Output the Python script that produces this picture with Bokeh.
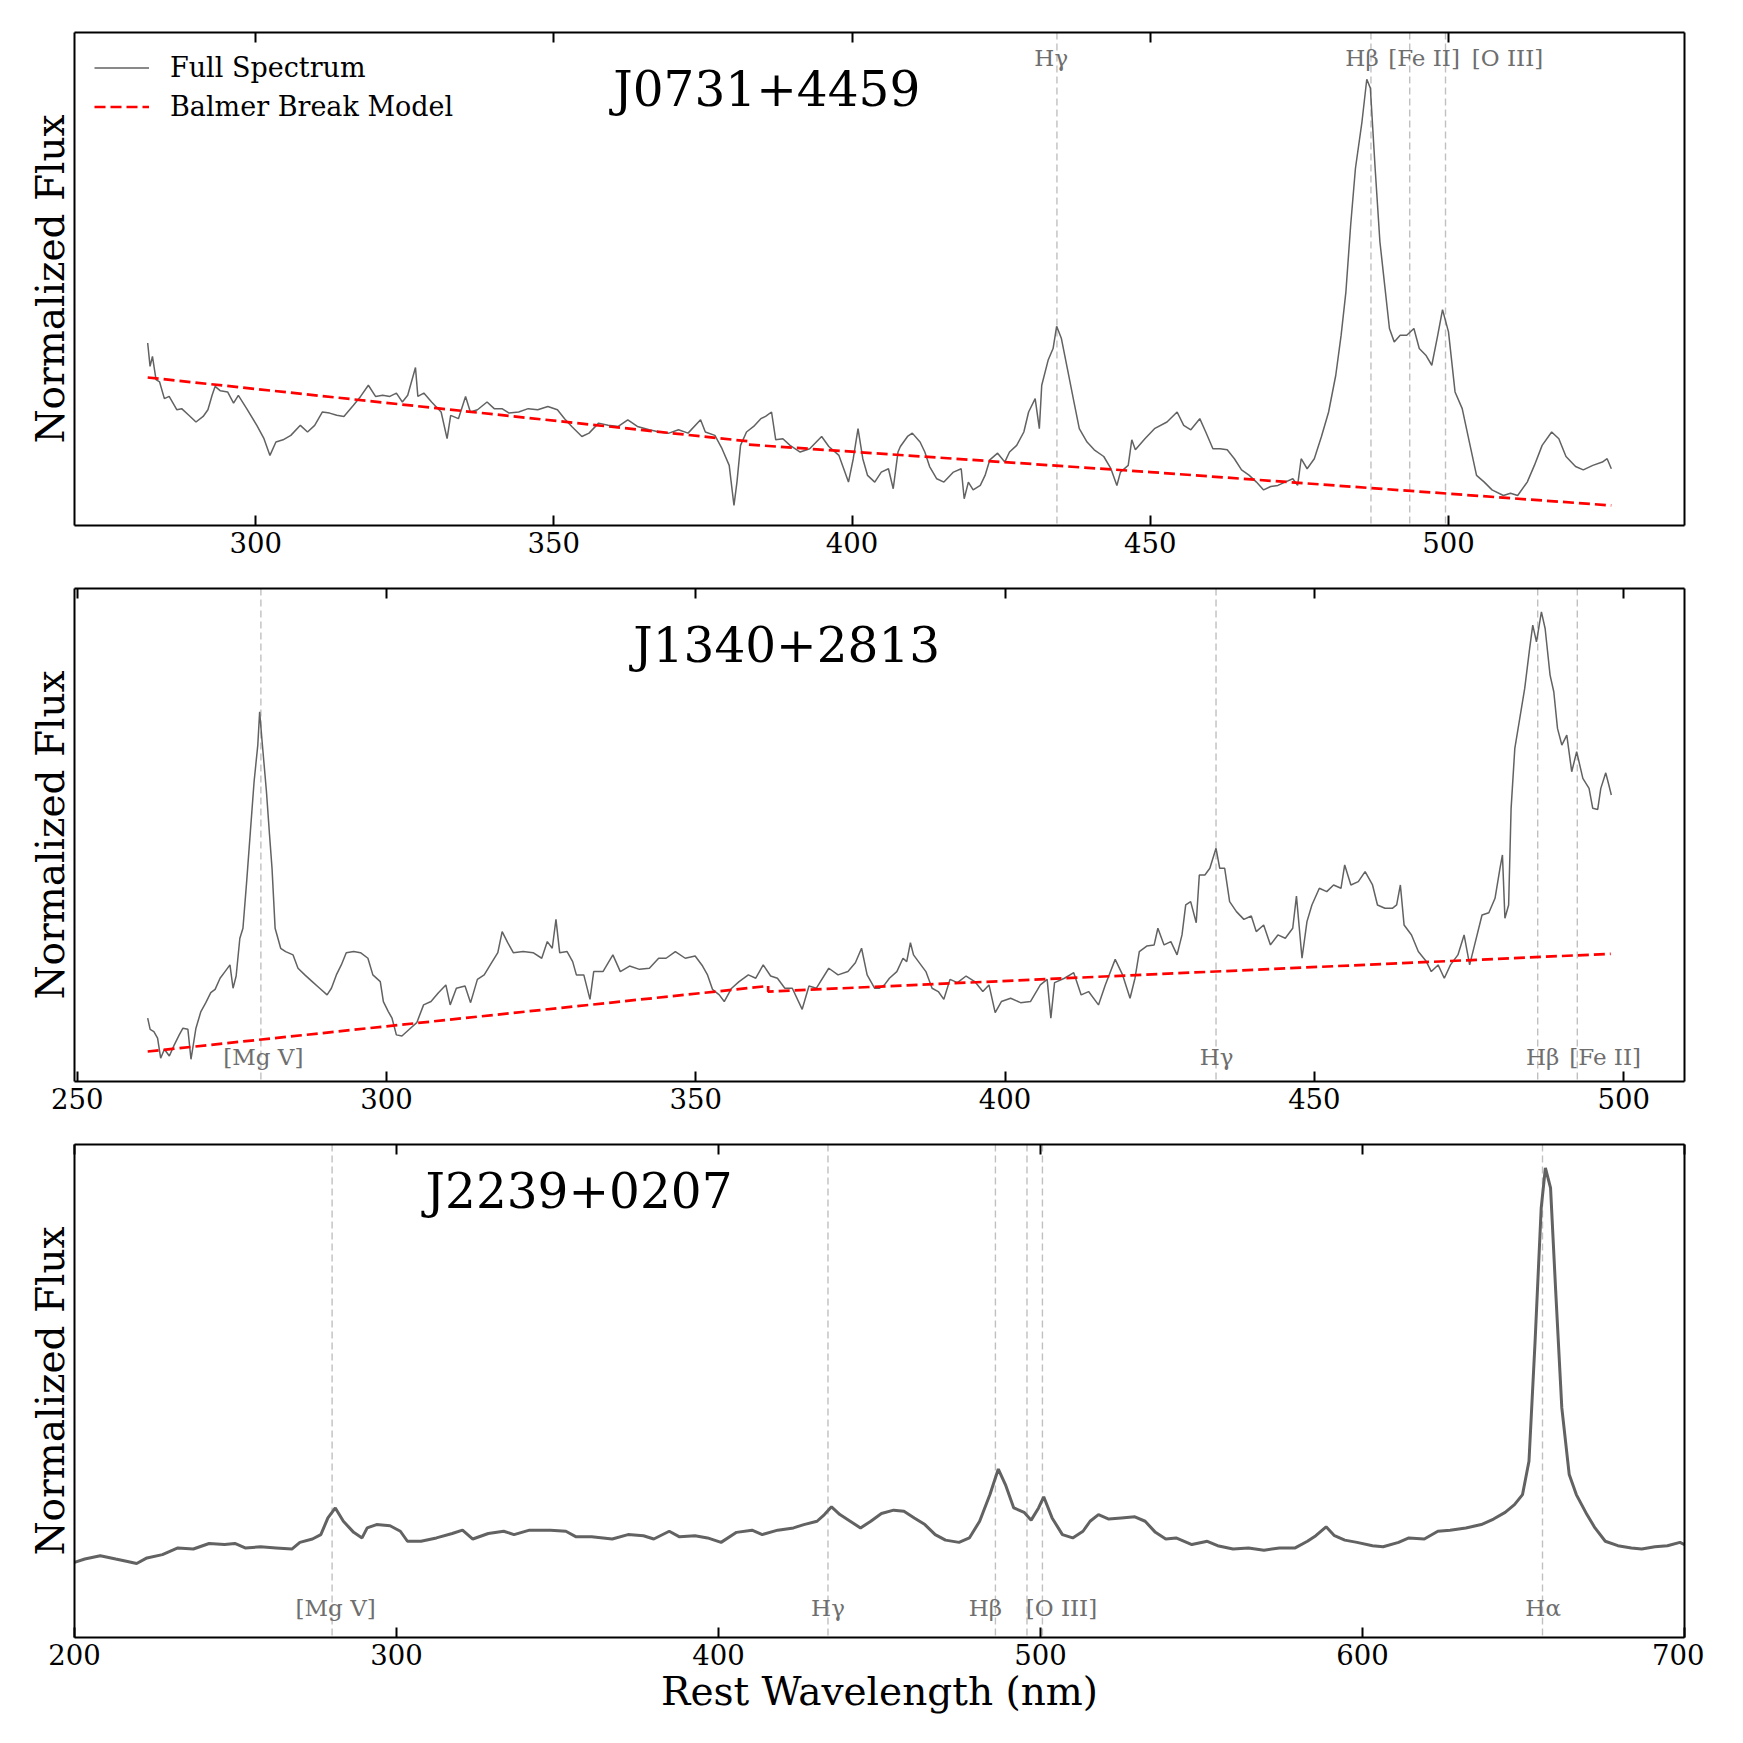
from bokeh.plotting import figure
from bokeh.models import Range1d, FixedTicker, LinearAxis, Span, Legend, LegendItem
from bokeh.layouts import column
from bokeh.embed import file_html
from bokeh.resources import INLINE
from bokeh.core.properties import value

FONT = "DejaVu Serif"

# ---------------- Panel 1: J0731+4459 ----------------
p1_wl = [281.9, 282.3, 282.7, 283.3, 283.9, 284.7, 285.5, 286.8, 287.6, 288.8, 290.0, 291.2, 292.0, 292.7, 293.2,
         294.1, 295.3, 296.3, 297.1, 298.5, 300.2, 301.4, 302.4, 303.4, 304.6, 305.9, 307.5, 308.7, 309.9, 311.2,
         312.4, 313.6, 314.8, 316.4, 317.6, 318.9, 320.1, 321.3, 322.5, 323.6, 324.6, 325.5, 326.8, 327.2, 328.2,
         329.5, 331.1, 332.1, 332.7, 334.0, 335.2, 336.0, 337.2, 338.8, 340.0, 341.3, 342.5, 344.1, 345.7, 347.3,
         349.0, 350.6, 351.8, 353.0, 354.7, 355.9, 357.5, 359.1, 360.8, 362.4, 364.0, 366.0, 367.7, 369.3, 370.9,
         372.5, 374.6, 375.4, 377.0, 378.2, 379.4, 380.2, 380.7, 381.3, 382.3, 383.5, 384.7, 385.5, 386.5, 387.2,
         388.4, 389.6, 391.3, 392.9, 394.9, 396.1, 397.8, 399.4, 400.2, 401.0, 401.8, 402.6, 403.8,
         404.9, 406.1, 406.9, 407.7, 408.1, 409.3, 410.1, 411.4, 412.2, 413.0, 414.2, 415.4, 417.0, 418.3, 418.8,
         419.5, 420.3, 421.5, 422.3, 423.1, 424.4, 425.6, 426.4, 427.6, 428.8, 429.6, 430.7, 431.4, 431.8, 432.9,
         433.7, 434.3, 435.1, 436.1, 437.2, 438.1, 439.4, 440.6, 442.2, 443.4, 444.4, 445.0, 446.3, 446.9, 447.5,
         449.1, 450.7, 452.8, 454.5, 455.6, 456.8, 458.3, 459.3, 460.5, 461.7, 462.9, 464.1, 465.3, 466.6, 467.8,
         469.0, 470.2, 471.4, 472.6, 473.9, 474.7, 475.3, 476.3, 477.5, 478.7, 479.9, 481.1, 482.0, 482.8, 483.6,
         484.4, 485.5, 486.3, 486.9, 487.7, 488.5, 489.3, 490.1, 490.9, 491.9, 493.0, 494.2, 495.1, 496.2, 497.2,
         498.2, 499.0, 500.0, 501.1, 502.3, 503.5, 504.7, 506.0, 507.3, 509.2, 510.4, 511.6, 513.2, 514.4, 515.7,
         517.3, 518.5, 519.7, 521.3, 522.6, 524.2, 525.8, 526.6, 527.3]
p1_flux = [1.64, 1.43, 1.52, 1.31, 1.29, 1.14, 1.16, 1.04, 1.05, 0.99, 0.93, 0.98, 1.04, 1.17, 1.25,
           1.21, 1.20, 1.10, 1.17, 1.05, 0.90, 0.78, 0.63, 0.75, 0.77, 0.81, 0.90, 0.84, 0.90, 1.02,
           1.01, 0.99, 0.98, 1.08, 1.16, 1.26, 1.16, 1.17, 1.16, 1.19, 1.11, 1.17, 1.42, 1.16, 1.19,
           1.11, 1.02, 0.78, 0.99, 0.96, 1.16, 1.02, 1.04, 1.11, 1.05, 1.05, 1.01, 1.02, 1.05, 1.04,
           1.07, 1.04, 0.96, 0.89, 0.80, 0.83, 0.92, 0.90, 0.89, 0.95, 0.89, 0.86, 0.84, 0.83, 0.86,
           0.83, 0.95, 0.84, 0.81, 0.69, 0.54, 0.18, 0.39, 0.72, 0.84, 0.89, 0.96, 0.98, 1.02, 0.77,
           0.78, 0.72, 0.66, 0.69, 0.80, 0.71, 0.63, 0.39, 0.60, 0.87, 0.60, 0.45, 0.39,
           0.48, 0.51, 0.33, 0.66, 0.71, 0.80, 0.83, 0.75, 0.66, 0.53, 0.42, 0.39, 0.48, 0.51, 0.24,
           0.39, 0.32, 0.36, 0.45, 0.59, 0.65, 0.57, 0.66, 0.72, 0.84, 1.02, 1.14, 0.87, 1.26, 1.49,
           1.59, 1.79, 1.68, 1.41, 1.11, 0.87, 0.75, 0.68, 0.62, 0.51, 0.36, 0.48, 0.54, 0.77, 0.68,
           0.78, 0.87, 0.93, 1.02, 0.90, 0.86, 0.96, 0.84, 0.69, 0.69, 0.68, 0.60, 0.50, 0.45, 0.39,
           0.32, 0.35, 0.36, 0.39, 0.42, 0.36, 0.60, 0.51, 0.60, 0.80, 1.02, 1.35, 1.71, 2.10, 2.70,
           3.21, 3.63, 4.01, 3.93, 3.21, 2.55, 2.16, 1.77, 1.65, 1.71, 1.71, 1.77, 1.59, 1.53, 1.44,
           1.71, 1.94, 1.74, 1.20, 1.05, 0.75, 0.45, 0.39, 0.32, 0.27, 0.29, 0.27, 0.39, 0.54, 0.72,
           0.84, 0.78, 0.62, 0.53, 0.50, 0.54, 0.57, 0.60, 0.51]
p1_model_wl = [281.9, 382.5, 382.5, 450.0, 527.3]
p1_model_flux = [1.33, 0.757, 0.727, 0.48, 0.18]
p1_ticks = [300, 350, 400, 450, 500]
p1_line_wl = [434.35, 487.0, 493.5, 499.5]
p1_label_text = ["Hγ", "Hβ", "[Fe II]", "[O III]"]
p1_label_wl = [433.4, 485.5, 495.9, 509.9]

# ---------------- Panel 2: J1340+2813 ----------------
p2_wl = [261.4, 261.8, 262.4, 263.0, 263.5, 264.1, 264.9, 265.7, 266.5, 267.1, 267.9, 268.4, 269.2, 270.0, 270.8,
         271.6, 272.3, 273.1, 273.9, 274.7, 275.2, 275.7, 276.3, 276.8, 277.4, 278.0, 278.6, 279.2, 279.5, 279.9,
         280.6, 281.1, 281.5, 282.0, 282.9, 283.7, 284.9, 285.7, 286.8, 288.0, 289.2, 290.4, 291.1, 291.9, 292.7,
         293.5, 294.7, 295.8, 297.0, 297.8, 299.0, 299.5, 300.3, 300.9, 301.6, 302.5, 303.7, 304.9, 306.0, 307.2,
         308.4, 309.6, 310.3, 311.3, 312.7, 313.6, 314.7, 315.8, 317.0, 318.0, 318.7, 319.6, 320.5, 322.1, 323.7,
         325.1, 326.0, 326.8, 327.4, 328.0, 329.2, 330.1, 330.7, 331.9, 332.9, 333.5, 335.0, 336.6, 337.8, 339.3,
         340.9, 342.5, 344.0, 345.2, 346.7, 348.3, 349.9, 351.1, 351.9, 352.7, 353.8, 354.6, 355.8, 357.0, 358.5,
         359.7, 360.9, 362.1, 363.2, 364.4, 365.6, 367.2, 368.3, 369.5, 371.5, 373.0, 374.6, 375.8, 376.8, 377.7,
         378.9,
         379.7, 380.5, 381.3, 382.5, 383.5, 384.1, 384.7, 385.2, 386.0, 387.2, 388.2, 389.2, 390.1, 391.1, 392.3,
         393.7, 395.1, 396.4, 397.4, 398.4, 399.4, 400.9, 402.5, 404.1, 405.7, 406.8, 407.4, 408.0, 409.6, 411.1,
         412.3, 413.5, 415.1, 416.2, 417.8, 419.0, 420.2, 421.0, 421.7, 422.9, 424.1, 424.7, 425.7, 426.8, 427.8,
         428.6, 429.2, 430.0, 430.9, 431.4, 432.3, 433.1, 434.1, 434.7, 435.5, 436.3, 437.4, 438.6, 439.8, 440.6,
         441.8, 442.9, 444.1, 445.3, 446.5, 447.1, 448.0, 448.8, 449.6, 450.8, 452.0, 453.1, 454.3, 454.9, 455.9,
         457.1, 458.2, 459.4, 460.2, 461.4, 462.6, 463.3, 463.9, 464.5, 465.7, 466.8, 468.1, 468.9, 470.0, 471.0,
         472.0, 473.2, 474.2, 475.1, 475.9, 477.1, 478.2, 479.2, 480.0, 480.4, 480.8, 481.4, 481.8, 482.4, 483.2,
         484.0, 484.8, 485.3, 485.9, 486.7, 487.3, 488.1, 488.7, 489.3, 490.0, 490.8, 491.6, 492.4, 493.4, 494.4,
         495.0, 495.8, 496.3, 497.1, 497.6, 498.0]
p2_flux = [0.57, 0.47, 0.45, 0.39, 0.21, 0.29, 0.23, 0.33, 0.42, 0.48, 0.47, 0.20, 0.48, 0.63, 0.71,
           0.80, 0.83, 0.93, 0.99, 1.05, 0.84, 0.95, 1.29, 1.38, 1.80, 2.25, 2.70, 3.03, 3.33, 3.06,
           2.61, 2.22, 1.92, 1.38, 1.20, 1.17, 1.14, 1.02, 0.96, 0.90, 0.84, 0.78, 0.84, 0.96, 1.05,
           1.16, 1.17, 1.16, 1.11, 0.96, 0.90, 0.72, 0.63, 0.57, 0.42, 0.41, 0.47, 0.53, 0.69, 0.72,
           0.80, 0.87, 0.69, 0.84, 0.86, 0.71, 0.92, 0.96, 1.07, 1.16, 1.35, 1.25, 1.16, 1.17, 1.16,
           1.11, 1.26, 1.20, 1.46, 1.16, 1.17, 1.08, 0.96, 0.96, 0.74, 0.99, 0.99, 1.14, 0.99, 1.04,
           1.01, 1.02, 1.11, 1.11, 1.17, 1.11, 1.13, 1.04, 0.96, 0.83, 0.78, 0.72, 0.84, 0.90, 0.96,
           0.93, 1.05, 0.95, 0.93, 0.84, 0.84, 0.65, 0.86, 0.84, 1.02, 0.96, 0.99, 1.07, 1.20, 0.96,
           0.84,
           0.84, 0.87, 0.93, 0.99, 1.11, 1.08, 1.25, 1.14, 1.08, 0.99, 0.84, 0.81, 0.74, 0.92, 0.89,
           0.95, 0.90, 0.81, 0.87, 0.62, 0.72, 0.75, 0.71, 0.72, 0.87, 0.92, 0.57, 0.89, 0.93, 0.98,
           0.78, 0.81, 0.69, 0.87, 1.10, 0.96, 0.75, 0.93, 1.17, 1.22, 1.23, 1.38, 1.23, 1.26, 1.14,
           1.32, 1.59, 1.62, 1.43, 1.86, 1.86, 1.92, 2.10, 1.92, 1.92, 1.62, 1.53, 1.46, 1.49, 1.35,
           1.41, 1.23, 1.32, 1.29, 1.38, 1.67, 1.11, 1.44, 1.59, 1.74, 1.71, 1.77, 1.74, 1.95, 1.77,
           1.80, 1.89, 1.77, 1.59, 1.56, 1.56, 1.59, 1.77, 1.41, 1.32, 1.17, 1.08, 0.99, 1.05, 0.93,
           1.05, 1.14, 1.32, 1.05, 1.23, 1.50, 1.52, 1.65, 1.92, 2.04, 1.47, 1.59, 2.46, 3.00, 3.27,
           3.54, 3.90, 4.11, 3.96, 4.23, 4.08, 3.66, 3.51, 3.18, 3.03, 3.12, 2.79, 2.97, 2.73, 2.64,
           2.46, 2.45, 2.64, 2.78, 2.67, 2.58]
p2_model_wl = [261.4, 361.7, 361.7, 497.9]
p2_model_flux = [0.27, 0.86, 0.81, 1.15]
p2_ticks = [250, 300, 350, 400, 450, 500]
p2_line_wl = [279.7, 434.1, 486.1, 492.5]
p2_label_text = ["[Mg V]", "Hγ", "Hβ", "[Fe II]"]
p2_label_wl = [280.1, 434.2, 486.9, 497.0]

# ---------------- Panel 3: J2239+0207 ----------------
p3_wl = [200.0, 203.2, 208.0, 212.8, 216.1, 219.3, 222.5, 227.3, 232.1, 236.9, 241.8, 246.6, 249.8, 253.0, 257.8,
         262.6, 267.5, 270.0, 273.9, 276.5, 278.7, 281.0, 283.5, 286.7, 289.3, 290.9, 293.8, 298.0, 301.2, 303.4,
         307.6, 312.4, 317.3, 320.5, 323.7, 328.5, 333.3, 336.5, 341.3, 347.8, 352.6, 355.8, 360.6, 367.0, 371.9,
         376.7, 379.9, 384.7, 387.9, 392.7, 396.6, 400.8, 405.6, 410.4, 413.6, 418.4, 423.3, 426.5, 430.6, 432.9,
         435.1, 437.7, 440.9, 444.1, 447.3, 450.6, 454.4, 457.6, 460.8, 464.1, 467.3, 470.5, 474.7, 477.9, 481.1,
         484.3, 486.9, 489.1, 491.7, 494.9, 497.1, 499.4, 501.0, 503.6, 506.8, 510.0, 513.2, 515.4, 518.0, 521.2,
         525.1, 529.3, 532.5, 535.7, 538.9, 542.1, 547.0, 551.8, 555.0, 559.8, 564.6, 569.4, 574.2, 579.1, 582.9,
         585.5, 588.7, 591.3, 594.5, 598.3, 603.1, 606.4, 611.2, 614.4, 619.2, 623.4, 627.2, 632.1, 636.9, 640.7,
         644.3, 647.2, 649.7, 651.7, 653.6, 655.5, 656.8, 658.4, 660.0, 661.9, 664.2, 666.4, 669.7, 672.2, 675.4,
         679.3, 683.5, 686.7, 690.8, 694.7, 698.6, 700.0]
p3_flux = [0.63, 0.66, 0.69, 0.66, 0.64, 0.62, 0.67, 0.70, 0.76, 0.75, 0.80, 0.79, 0.80, 0.76, 0.77,
           0.76, 0.75, 0.81, 0.84, 0.88, 1.03, 1.12, 1.00, 0.90, 0.85, 0.94, 0.97, 0.96, 0.91, 0.82,
           0.82, 0.85, 0.89, 0.92, 0.84, 0.89, 0.91, 0.88, 0.92, 0.92, 0.91, 0.86, 0.86, 0.84, 0.88,
           0.87, 0.84, 0.91, 0.86, 0.87, 0.85, 0.81, 0.90, 0.92, 0.88, 0.92, 0.94, 0.97, 1.00, 1.06,
           1.13, 1.06, 1.00, 0.94, 1.00, 1.07, 1.10, 1.09, 1.03, 0.97, 0.88, 0.83, 0.81, 0.85, 1.00,
           1.24, 1.47, 1.33, 1.12, 1.08, 1.01, 1.12, 1.22, 1.03, 0.88, 0.85, 0.91, 1.00, 1.06, 1.02,
           1.03, 1.04, 1.00, 0.90, 0.84, 0.85, 0.79, 0.82, 0.78, 0.75, 0.76, 0.74, 0.76, 0.76, 0.82,
           0.87, 0.95, 0.87, 0.83, 0.81, 0.78, 0.77, 0.81, 0.85, 0.84, 0.91, 0.92, 0.94, 0.97, 1.02,
           1.08, 1.15, 1.24, 1.54, 2.62, 3.82, 4.18, 4.00, 3.07, 2.02, 1.42, 1.24, 1.06, 0.94, 0.82,
           0.78, 0.76, 0.75, 0.77, 0.78, 0.81, 0.79]
p3_ticks = [200, 300, 400, 500, 600, 700]
p3_line_wl = [280.0, 434.0, 486.0, 495.8, 500.6, 655.9]
p3_label_text = ["[Mg V]", "Hγ", "Hβ", "[O III]", "Hα"]
p3_label_wl = [281.1, 434.0, 482.9, 506.5, 656.1]

titles = ["J0731+4459", "J1340+2813", "J2239+0207"]
title_wl = [385.7, 364.7, 356.7]
title_flux = [3.92, 3.93, 3.97]

SPEC_COLOR = "#626262"


def padded(xs):
    lo, hi = min(xs), max(xs)
    pad = 0.05 * (hi - lo)
    return lo - pad, hi + pad


def make_panel(wl, flux, xr, yr, ticks, line_wl, label_text, label_wl, label_y, title, twl, tfl,
               lw, top_border, bottom_border, xlabel=None):
    p = figure(frame_width=1610, frame_height=493, x_range=Range1d(*xr), y_range=Range1d(*yr),
               output_backend="svg", toolbar_location=None,
               min_border_left=74, min_border_right=20,
               min_border_top=top_border, min_border_bottom=bottom_border)
    p.grid.visible = False
    p.outline_line_color = None
    p.background_fill_color = "white"
    p.border_fill_color = "white"

    xa = p.xaxis[0]
    xa.ticker = FixedTicker(ticks=ticks)
    xa.major_tick_in = 10
    xa.major_tick_out = 0
    xa.minor_tick_line_color = None
    xa.major_tick_line_width = 2
    xa.axis_line_width = 2
    xa.major_label_text_font = FONT
    xa.major_label_text_font_size = "27.5px"
    xa.major_label_text_color = "black"
    xa.major_label_standoff = 6
    if xlabel:
        xa.axis_label = xlabel
        xa.axis_label_text_font = FONT
        xa.axis_label_text_font_size = "39px"
        xa.axis_label_text_font_style = "normal"
        xa.axis_label_text_color = "black"
        xa.axis_label_standoff = 1

    top = LinearAxis(ticker=FixedTicker(ticks=ticks), major_tick_in=10, major_tick_out=0,
                     minor_tick_line_color=None, major_label_text_font_size="0px",
                     major_label_text_color=None,
                     major_label_standoff=0, axis_line_width=2, major_tick_line_width=2)
    p.add_layout(top, "above")

    ya = p.yaxis[0]
    ya.ticker = FixedTicker(ticks=[])
    ya.major_label_text_font_size = "0px"
    ya.major_label_text_color = None
    ya.major_tick_line_color = None
    ya.minor_tick_line_color = None
    ya.major_label_standoff = 0
    ya.axis_line_width = 2
    ya.axis_label = "Normalized Flux"
    ya.axis_label_text_font = FONT
    ya.axis_label_text_font_size = "39px"
    ya.axis_label_text_font_style = "normal"
    ya.axis_label_text_color = "black"
    ya.axis_label_standoff = 2

    right = LinearAxis(ticker=FixedTicker(ticks=[]), major_label_text_font_size="0px",
                       major_label_text_color=None,
                       major_tick_line_color=None, minor_tick_line_color=None,
                       major_label_standoff=0, axis_line_width=2)
    p.add_layout(right, "right")

    for x in line_wl:
        p.add_layout(Span(location=x, dimension="height", line_color="#c0c0c0", line_width=1.4,
                          line_dash="7 4", level="underlay"))

    r = p.line(wl, flux, line_color=SPEC_COLOR, line_width=lw)

    p.text(x=label_wl, y=[label_y] * len(label_wl), text=label_text, text_align="center",
           text_baseline="alphabetic", text_font=value(FONT), text_font_size="23px",
           text_color="#6e6e6e")
    p.text(x=[twl], y=[tfl], text=[title], text_align="center", text_baseline="alphabetic",
           text_font=value(FONT), text_font_size="48.5px", text_color="black")
    return p, r


p1, r1 = make_panel(p1_wl, p1_flux, padded(p1_wl), (0, 4.43), p1_ticks, p1_line_wl, p1_label_text,
                    p1_label_wl, 4.205, titles[0], title_wl[0], title_flux[0], 1.5, 32, 44)
m1 = p1.line(p1_model_wl, p1_model_flux, line_color="red", line_width=2.7, line_dash="11 5")
legend = Legend(items=[LegendItem(label="Full Spectrum", renderers=[r1]),
                       LegendItem(label="Balmer Break Model", renderers=[m1])],
                location="top_left", label_text_font=FONT, label_text_font_size="27px",
                label_text_color="black",
                border_line_color=None, background_fill_alpha=0, margin=20, padding=12,
                spacing=8, glyph_width=55, glyph_height=27, label_height=27, label_standoff=21)
p1.add_layout(legend)

p2, r2 = make_panel(p2_wl, p2_flux, padded(p2_wl), (0, 4.44), p2_ticks, p2_line_wl, p2_label_text,
                    p2_label_wl, 0.22, titles[1], title_wl[1], title_flux[1], 1.5, 19, 44)
p2.line(p2_model_wl, p2_model_flux, line_color="red", line_width=2.7, line_dash="11 5")

p3, r3 = make_panel(p3_wl, p3_flux, (200, 700), (-0.046, 4.39), p3_ticks, p3_line_wl, p3_label_text,
                    p3_label_wl, 0.22, titles[2], title_wl[2], title_flux[2], 3, 19, 90,
                    xlabel="Rest Wavelength (nm)")

layout = column(p1, p2, p3, spacing=0)
open("out.html", "w").write(file_html(layout, INLINE))
